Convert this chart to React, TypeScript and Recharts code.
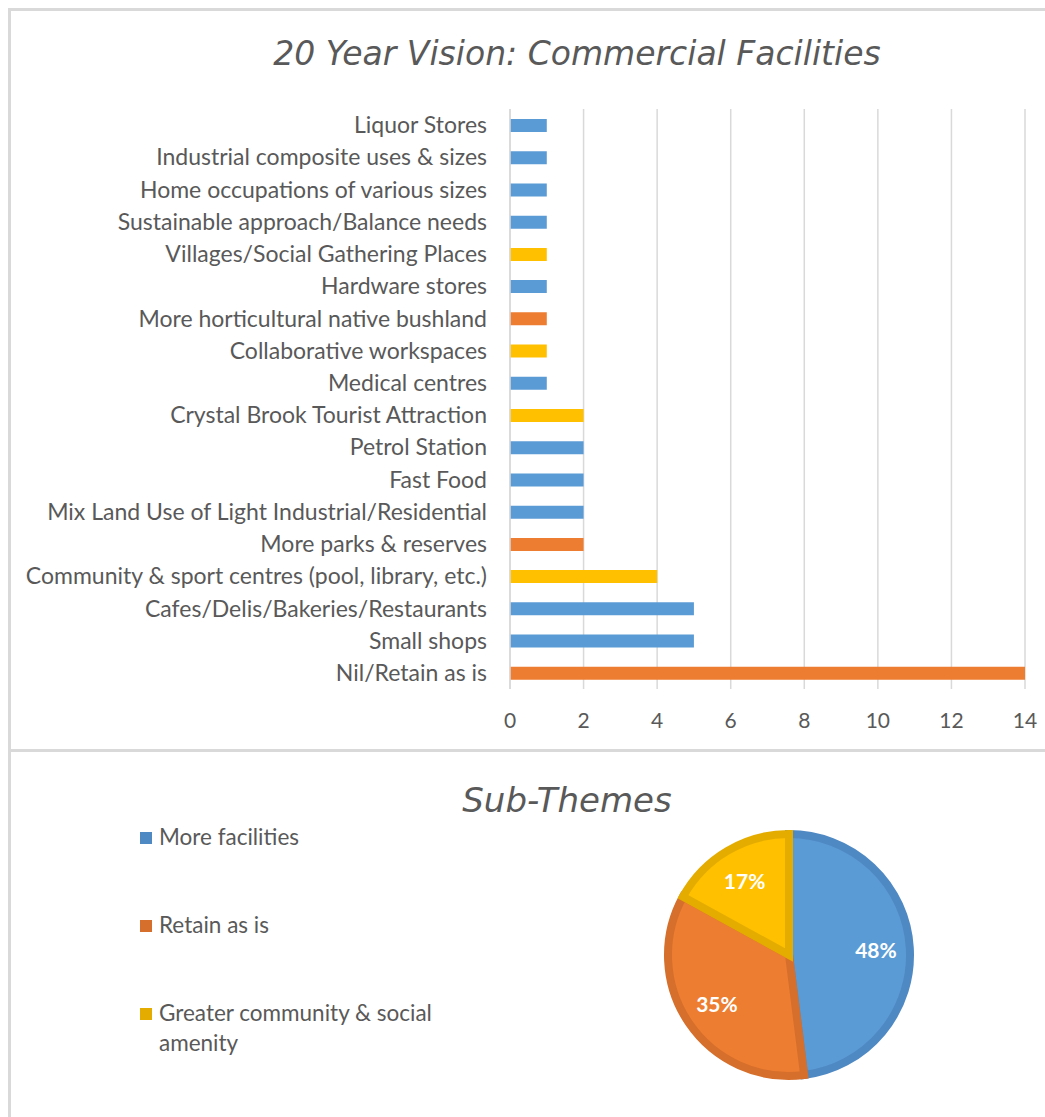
import { BarChart, Bar, XAxis, YAxis, CartesianGrid, Cell, PieChart, Pie } from "recharts";

const categories = [
  "Liquor Stores",
  "Industrial composite uses & sizes",
  "Home occupations of various sizes",
  "Sustainable approach/Balance needs",
  "Villages/Social Gathering Places",
  "Hardware stores",
  "More horticultural native bushland",
  "Collaborative workspaces",
  "Medical centres",
  "Crystal Brook Tourist Attraction",
  "Petrol Station",
  "Fast Food ",
  "Mix Land Use of Light Industrial/Residential",
  "More parks & reserves",
  "Community & sport centres (pool, library, etc.)",
  "Cafes/Delis/Bakeries/Restaurants",
  "Small shops",
  "Nil/Retain as is",
];
const counts = [1, 1, 1, 1, 1, 1, 1, 1, 1, 2, 2, 2, 2, 2, 4, 5, 5, 14];
// 0 = More facilities, 1 = Retain as is, 2 = Greater community & social amenity
const themeOf = [0, 0, 0, 0, 2, 0, 1, 2, 0, 2, 0, 0, 0, 1, 2, 0, 0, 1];

const subThemes = ["More facilities", "Retain as is", "Greater community & social amenity"];
const subThemeShares = [48, 35, 17];
const xTicks = [0, 2, 4, 6, 8, 10, 12, 14];

const barColors = ["#5b9bd5", "#ed7d31", "#ffc000"];
const edgeColors = ["#4f89c4", "#d66f2b", "#e5ac00"];
const textColor = "#595959";
const labelFont = "Lato, 'Open Sans', sans-serif";
const titleFont = "'DejaVu Sans', Verdana, sans-serif";

const barData = categories.map((name, i) => ({ name, value: counts[i], theme: themeOf[i] }));
const pieData = subThemes.map((name, i) => ({ name, value: subThemeShares[i] }));

const RAD = Math.PI / 180;

function PieLabel(props: any) {
  const { cx, cy, midAngle, outerRadius, value } = props;
  const r = outerRadius * 0.72;
  const x = cx + r * Math.cos(-midAngle * RAD);
  const y = cy + r * Math.sin(-midAngle * RAD);
  return (
    <text x={x} y={y} fill="#ffffff" textAnchor="middle" dominantBaseline="central"
      style={{ fontFamily: labelFont, fontWeight: 700, fontSize: 21 }}>
      {value}%
    </text>
  );
}

export default function App() {
  return (
    <div style={{ position: "absolute", left: 0, top: 0, width: 1045, height: 1117, overflow: "hidden", background: "#fff" }}>
      <div style={{ position: "absolute", left: 8, top: 8, width: 1100, height: 1200, borderTop: "3px solid #d9d9d9", borderLeft: "3px solid #d9d9d9" }} />
      <div style={{ position: "absolute", left: 8, top: 749, width: 1100, height: 0, borderTop: "3px solid #d9d9d9" }} />

      <div style={{ position: "absolute", left: 177, top: 34, width: 800, textAlign: "center", fontFamily: titleFont, fontStyle: "italic", fontSize: 33, color: textColor }}>
        20 Year Vision: Commercial Facilities
      </div>

      <div style={{ position: "absolute", left: 0, top: 0 }}>
        <BarChart width={1045} height={740} data={barData} layout="vertical"
          margin={{ top: 109, right: 20, bottom: 11, left: 0 }} barSize={13}>
          <CartesianGrid horizontal={false} stroke="#d9d9d9" strokeWidth={1.5} />
          <XAxis type="number" domain={[0, 14]} ticks={xTicks} height={40} axisLine={false} tickLine={false}
            tickSize={0} tickMargin={24} interval={0}
            tick={{ fill: textColor, fontSize: 21, fontFamily: labelFont }} />
          <YAxis type="category" dataKey="name" width={510} interval={0} tickLine={false} tickSize={0} tickMargin={23}
            axisLine={{ stroke: "#d9d9d9", strokeWidth: 1.5 }}
            tick={{ fill: textColor, fontSize: 23, fontFamily: labelFont }} />
          <Bar dataKey="value" isAnimationActive={false}>
            {barData.map((d, i) => (
              <Cell key={i} fill={barColors[d.theme]} />
            ))}
          </Bar>
        </BarChart>
      </div>

      <div style={{ position: "absolute", left: 367, top: 780, width: 400, textAlign: "center", fontFamily: titleFont, fontStyle: "italic", fontSize: 34, color: textColor }}>
        Sub-Themes
      </div>

      <div style={{ position: "absolute", left: 140, top: 822, width: 320, fontFamily: labelFont, fontSize: 22.5, color: textColor }}>
        {subThemes.map((name, i) => (
          <div key={name} style={{ position: "absolute", left: 0, top: i * 88, display: "flex", alignItems: "flex-start" }}>
            <div style={{ width: 12, height: 12, background: edgeColors[i], marginTop: 10, marginRight: 7, flexShrink: 0 }} />
            <div style={{ width: 290, lineHeight: "30px", marginTop: 0 }}>{name}</div>
          </div>
        ))}
      </div>

      <div style={{ position: "absolute", left: 634, top: 800 }}>
        <PieChart width={300} height={300}>
          <Pie data={pieData} dataKey="value" cx={150} cy={150} outerRadius={121} startAngle={90} endAngle={-270}
            label={PieLabel} labelLine={false} isAnimationActive={false}>
            {pieData.map((d, i) => (
              <Cell key={d.name} fill={barColors[i]} stroke={edgeColors[i]} strokeWidth={8} />
            ))}
          </Pie>
        </PieChart>
      </div>
    </div>
  );
}
